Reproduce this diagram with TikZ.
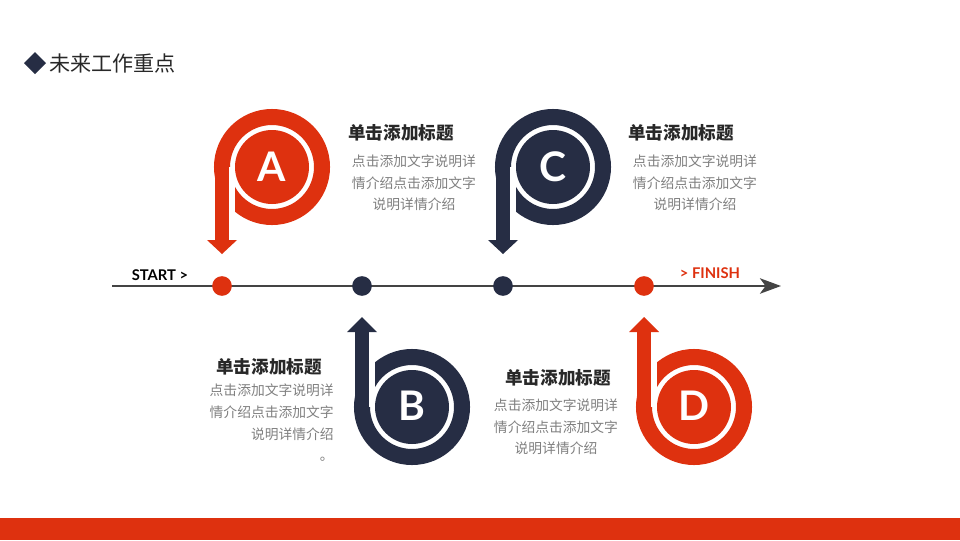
\documentclass[tikz,border=0pt]{standalone}
\usepackage{fontspec}
\setmainfont{Noto Sans CJK SC}
\newfontfamily\latinfont{Lato}
\usetikzlibrary{arrows.meta}
\definecolor{tlred}{RGB}{222,49,15}
\definecolor{tlnavy}{RGB}{38,45,68}
\definecolor{tlgray}{RGB}{68,68,68}
\definecolor{txtgray}{RGB}{128,128,128}
\definecolor{txtdark}{RGB}{40,40,40}

\begin{document}
\begin{tikzpicture}[x=0.025cm,y=-0.025cm]
\tikzstyle{every node}+=[inner sep=0pt]
\tikzset{
  ring/.style={line width=11.4pt},
  dotmark/.style={circle,minimum size=14pt},
  letter/.style={white,font=\latinfont\bfseries\fontsize{29}{29}\selectfont},
  heading/.style={anchor=west,txtdark,font=\bfseries\fontsize{12.5}{14}\selectfont},
  body/.style={txtgray,font=\fontsize{9.8}{15.4}\selectfont}
}
\useasboundingbox (0,0) rectangle (960,540);
\fill [white] (0,0) rectangle (960,540);
% title
\fill [tlnavy] (35,52) -- (46,63) -- (35,74) -- (24,63) -- cycle;
\node [anchor=west,txtdark,font=\fontsize{15}{17}\selectfont] (title) at (49,63) {未来工作重点};
% timeline
\coordinate (tlstart) at (112,286);
\coordinate (tlend) at (781,286);
\draw [tlgray,line width=1.4pt,-{Stealth[length=15pt,width=11pt,inset=4pt]}] (tlstart) -- (tlend);
\node [dotmark,fill=tlred] (pa) at (222,286) {};
\node [dotmark,fill=tlnavy] (pb) at (362,286) {};
\node [dotmark,fill=tlnavy] (pc) at (503,286) {};
\node [dotmark,fill=tlred] (pd) at (644,286) {};
\node [black,font=\latinfont\bfseries\fontsize{10.5}{12}\selectfont] (start) at (160,275) {START >};
\node [tlred,font=\latinfont\bfseries\fontsize{10.5}{12}\selectfont] (finish) at (710,273) {> FINISH};
% icon A
\draw [ring,tlred] (272,167) circle (50);
\fill [tlred] (215,167) rectangle (229,241);
\fill [tlred] (207,240) -- (237,240) -- (222,254) -- cycle;
\fill [white] (229,167) rectangle (235,213);
\fill [tlred] (272,167) circle (37);
\node [letter] (la) at (272,167) {A};
% icon C
\draw [ring,tlnavy] (553,167) circle (50);
\fill [tlnavy] (496,167) rectangle (510,241);
\fill [tlnavy] (488,240) -- (518,240) -- (503,254) -- cycle;
\fill [white] (510,167) rectangle (516,213);
\fill [tlnavy] (553,167) circle (37);
\node [letter] (lc) at (553,167) {C};
% icon B
\draw [ring,tlnavy] (412,407) circle (50);
\fill [tlnavy] (355,407) rectangle (369,331);
\fill [tlnavy] (347,332) -- (377,332) -- (362,317) -- cycle;
\fill [white] (369,407) rectangle (375,361);
\fill [tlnavy] (412,407) circle (37);
\node [letter] (lb) at (412,406) {B};
% icon D
\draw [ring,tlred] (694,407) circle (50);
\fill [tlred] (637,407) rectangle (651,331);
\fill [tlred] (629,332) -- (659,332) -- (644,317) -- cycle;
\fill [white] (651,407) rectangle (657,361);
\fill [tlred] (694,407) circle (37);
\node [letter] (ld) at (694,406) {D};
% texts
\node [heading] (ha) at (348,133) {单击添加标题};
\node [body,align=center] (ta) at (414,183) {点击添加文字说明详\\情介绍点击添加文字\\说明详情介绍};
\node [heading] (hc) at (628,133) {单击添加标题};
\node [body,align=center] (tc) at (695,183) {点击添加文字说明详\\情介绍点击添加文字\\说明详情介绍};
\node [heading] (hb) at (216,367) {单击添加标题};
\node [body,align=right,anchor=east] (tb) at (334,423) {点击添加文字说明详\\情介绍点击添加文字\\说明详情介绍\\。};
\node [heading] (hd) at (505,378) {单击添加标题};
\node [body,align=center] (td) at (556,427) {点击添加文字说明详\\情介绍点击添加文字\\说明详情介绍};
% bottom bar
\fill [tlred] (0,518) rectangle (960,540);
\end{tikzpicture}
\end{document}
